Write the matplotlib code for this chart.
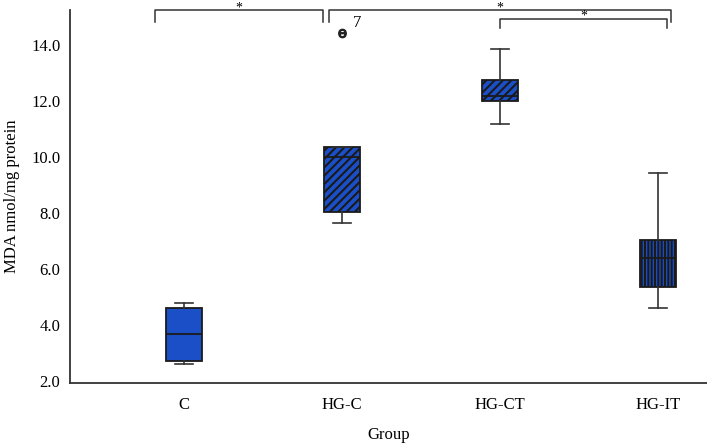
import matplotlib
matplotlib.use('Agg')
import matplotlib.pyplot as plt

plt.rcParams['font.family'] = ['Liberation Serif', 'DejaVu Serif']

# box statistics
groups = ['C', 'HG-C', 'HG-CT', 'HG-IT']
whislo = [2.60, 7.64, 11.18, 4.62]
q1 = [2.72, 8.04, 11.98, 5.37]
med = [3.70, 10.01, 12.19, 6.38]
q3 = [4.62, 10.35, 12.73, 7.04]
whishi = [4.80, 10.35, 13.85, 9.44]
fliers = [[], [14.43], [], []]
flier_labels = ['', '7', '', '']
hatches = ['', '////', '////', '|||||']

# significance brackets: (x start, x end, y level, leg length)
brackets = [(-0.18, 0.88, 15.25, 0.45),
            (0.92, 3.08, 15.25, 0.45),
            (2.00, 3.06, 14.93, 0.32)]

stats = []
for i, g in enumerate(groups):
    stats.append(dict(label=g, whislo=whislo[i], q1=q1[i], med=med[i],
                      q3=q3[i], whishi=whishi[i], fliers=fliers[i]))

fig = plt.figure(figsize=(7.07, 4.45), dpi=100)
ax = fig.add_axes([0.099, 0.139, 0.901, 0.839])

plt.rcParams['hatch.linewidth'] = 1.5
bp = ax.bxp(stats, positions=range(len(groups)), widths=0.23,
            patch_artist=True, showfliers=True,
            boxprops=dict(facecolor='#1a4fc8', edgecolor='#1a1a1a', linewidth=1.3),
            medianprops=dict(color='#1a1a1a', linewidth=1.3),
            whiskerprops=dict(color='#333333', linewidth=1.2),
            capprops=dict(color='#333333', linewidth=1.2),
            flierprops=dict(marker='$\u0398$', markersize=6, markeredgecolor='#222222',
                            markerfacecolor='#222222', linestyle='none'))
for box, h in zip(bp['boxes'], hatches):
    box.set_hatch(h)

for i, lab in enumerate(flier_labels):
    for v in fliers[i]:
        ax.text(i + 0.07, v + 0.05, lab, fontsize=12, ha='left', va='bottom')

for x0, x1, y, leg in brackets:
    ax.plot([x0, x0, x1, x1], [y - leg, y, y, y - leg], color='#333333',
            linewidth=1.1, clip_on=False)
    ax.text((x0 + x1) / 2, y + 0.08, '*', ha='center', va='center', fontsize=10)

ax.set_xlim(-0.72, 3.31)
ax.set_ylim(1.93, 15.25)
ax.set_yticks([2, 4, 6, 8, 10, 12, 14])
ax.set_yticklabels(['2.0', '4.0', '6.0', '8.0', '10.0', '12.0', '14.0'], fontsize=12)
ax.set_xticks(range(len(groups)))
ax.set_xticklabels(groups, fontsize=12)
ax.tick_params(axis='y', length=0, pad=7)
ax.tick_params(axis='x', length=0, pad=10)
ax.set_xlabel('Group', fontsize=12, labelpad=10)
ax.set_ylabel('MDA nmol/mg protein', fontsize=12, labelpad=8)

for s in ['top', 'right']:
    ax.spines[s].set_visible(False)
for s in ['left', 'bottom']:
    ax.spines[s].set_color('#333333')
    ax.spines[s].set_linewidth(1.3)

plt.savefig('out.png', dpi=100)
